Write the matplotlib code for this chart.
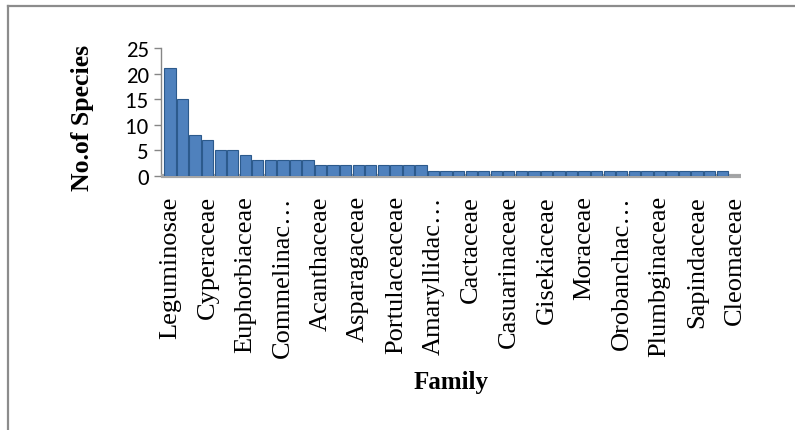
import matplotlib
matplotlib.use("Agg")
import matplotlib.pyplot as plt
from matplotlib.lines import Line2D

# families as they appear on the axis (long names cut off the same way)
families = ["Leguminosae", "Poaceae", "Malvaceae", "Cyperaceae", "Convolvulaceae",
            "Asteraceae", "Euphorbiaceae", "Amaranthaceae", "Solanaceae",
            "Commelinac\u2026", "Cucurbitaceae", "Rubiaceae", "Acanthaceae",
            "Apocynaceae", "Aizoaceae", "Asparagaceae", "Boraginaceae",
            "Capparaceae", "Portulaceaceae", "Lamiaceae", "Nyctaginaceae",
            "Amaryllidac\u2026", "Asclepiadaceae", "Burseraceae", "Cactaceae",
            "Caryophyllaceae", "Celastraceae", "Casuarinaceae", "Combretaceae",
            "Elatinaceae", "Gisekiaceae", "Lythraceae", "Meliaceae", "Moraceae",
            "Molluginaceae", "Oleaceae", "Orobanchac\u2026", "Oxalidaceae",
            "Pedaliaceae", "Plumbginaceae", "Rhamnaceae", "Salvadoraceae",
            "Sapindaceae", "Tiliaceae", "Zygophyllaceae", "Cleomaceae"]
species = [21, 15, 8, 7, 5, 5, 4, 3, 3, 3, 3, 3, 2, 2, 2, 2, 2, 2, 2, 2, 2,
           1, 1, 1, 1, 1, 1, 1, 1, 1, 1, 1, 1, 1, 1, 1, 1, 1, 1, 1, 1, 1, 1,
           1, 1, 0]
y_ticks = [0, 5, 10, 15, 20, 25]

W, H = 795, 431
fig = plt.figure(figsize=(W / 100, H / 100), dpi=100)
ax = fig.add_axes([161.2 / W, 1 - 176.7 / H, 579.8 / W, 127.7 / H])

x = list(range(len(families)))
ax.bar(x, species, width=0.9, color="#4F81BD", edgecolor="#2C5A8C", linewidth=0.8,
       zorder=3)

ax.set_xlim(-0.7, 45.5)
ax.set_ylim(0, 25)
ax.set_yticks(y_ticks)
ax.set_yticklabels([str(v) for v in y_ticks], family=["Carlito", "Lato", "DejaVu Sans"],
                   fontsize=16.5)
ax.tick_params(axis="y", direction="out", length=5, width=1, color="#868686", pad=4)

# every third family is labelled
ax.set_xticks(x[::3])
ax.set_xticklabels(families[::3], rotation=90, family="Liberation Serif",
                   fontsize=19, va="top", ha="center")
ax.tick_params(axis="x", length=0, pad=14)

for s in ["top", "right"]:
    ax.spines[s].set_visible(False)
ax.spines["left"].set_color("#868686")
ax.spines["left"].set_linewidth(1)
ax.spines["bottom"].set_color("#A6A6A6")
ax.spines["bottom"].set_linewidth(3)
ax.spines["bottom"].set_capstyle("butt")

fig.text(83 / W, 1 - 118 / H, "No.of Species", rotation=90, ha="center", va="center",
         family="Liberation Serif", fontweight="bold", fontsize=18.5)
fig.text(451 / W, 1 - 383 / H, "Family", ha="center", va="center",
         family="Liberation Serif", fontweight="bold", fontsize=18)

# outer chart border
fig.add_artist(Line2D([8 / W, 1.0], [1 - 7 / H, 1 - 7 / H], color="#8C8C8C", lw=1.6,
                      transform=fig.transFigure))
fig.add_artist(Line2D([8 / W, 8 / W], [1 - 7 / H, 0], color="#8C8C8C", lw=1.6,
                      transform=fig.transFigure))

fig.savefig("out.png", dpi=100)
